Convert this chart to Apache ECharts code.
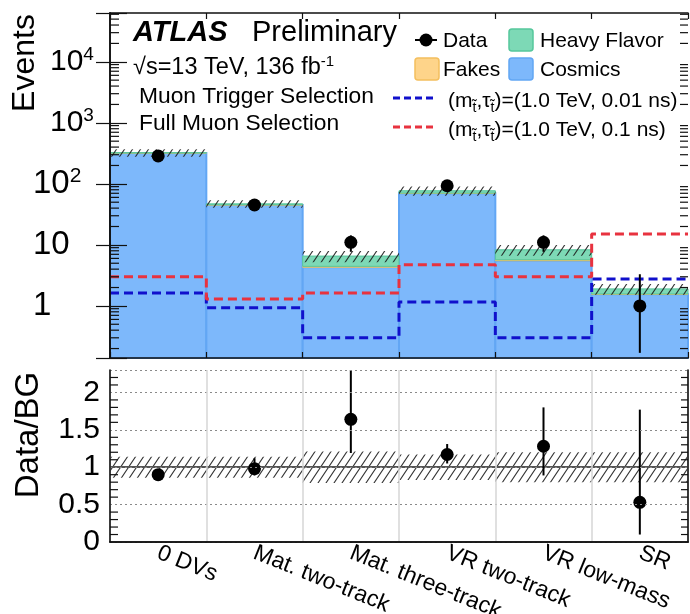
<!DOCTYPE html>
<html>
<head>
<meta charset="utf-8">
<script src="https://cdn.jsdelivr.net/npm/echarts@6/dist/echarts.min.js"></script>
<style>
  html, body { margin: 0; padding: 0; background: #fff; }
  #chart { width: 690px; height: 614px; }
</style>
</head>
<body>
<div id="chart"></div>
<script>
// Regions of the selection
const categories = ['0 DVs', 'Mat. two-track', 'Mat. three-track', 'VR two-track', 'VR low-mass', 'SR'];

// Background predictions per region (stacked)
const cosmics     = [320, 45, 4.3, 70, 5.5, 1.55];
const fakes       = [1.0, 0.4, 0.15, 0.5, 0.2, 0.02];
const heavyFlavor = [3.0, 1.6, 2.1, 6.5, 2.6, 0.33];
// Relative background uncertainty (hatched band)
const bgRelUnc    = [0.14, 0.14, 0.21, 0.17, 0.20, 0.20];

// Observed events with error bar ends
const dataCounts = [287, 45, 11, 93, 11, 1];
const dataLow    = [270, 38.3, 7.7, 83.4, 7.7, 0.17];
const dataHigh   = [304, 51.7, 14.3, 102.6, 14.3, 3.3];

// Signal benchmarks
const sigShort = [1.63, 0.93, 0.30, 1.16, 0.30, 2.77];   // 0.01 ns
const sigLong  = [2.99, 1.30, 1.63, 4.7, 2.99, 15.1];    // 0.1 ns

// Data / background ratio
const ratio     = [0.90, 0.98, 1.64, 1.17, 1.28, 0.53];
const ratioLow  = [0.85, 0.89, 1.19, 1.05, 0.89, 0.10];
const ratioHigh = [0.96, 1.12, 2.45, 1.31, 1.80, 1.77];

// Axis ranges and tick labels
const Y_MIN = 0.14, Y_MAX = 63000;
const R_MIN = 0, R_MAX = 2.3, R_STEP = 0.5;
const ratioTickLabels = ['0', '0.5', '1', '1.5', '2'];

const FONT = '"Liberation Sans", Arial, Helvetica, sans-serif';
const COL = {
  cosmics: '#7db8fb', cosmicsEdge: '#62a6f4',
  fakes: '#fed48a', fakesEdge: '#f4bf5e',
  hf: '#7dd9b6', hfEdge: '#56c79c',
  blue: '#1010cc', red: '#e8323f'
};

// Diagonal hatch tile
function hatchTile(w, h) {
  const c = document.createElement('canvas');
  c.width = w; c.height = h;
  const g = c.getContext('2d');
  g.strokeStyle = 'rgba(30,30,30,0.9)';
  g.lineWidth = 1.1;
  g.beginPath();
  g.moveTo(-1, h + h / w); g.lineTo(w + 1, -h / w);
  g.moveTo(-w, h); g.lineTo(w, -h);
  g.moveTo(0, 2 * h); g.lineTo(2 * w, 0);
  g.stroke();
  return c;
}
const hatch = { image: hatchTile(8, 12), repeat: 'repeat' };

// Histogram bin rectangle between two levels (x = bin index on a 0..6 value axis)
function binRect(fill, stroke, lw) {
  return function (params, api) {
    const i = api.value(0);
    const p0 = api.coord([i, api.value(2)]);
    const p1 = api.coord([i + 1, api.value(1)]);
    return {
      type: 'rect',
      shape: { x: p0[0], y: p0[1], width: p1[0] - p0[0], height: p1[1] - p0[1] },
      style: { fill: fill, stroke: stroke, lineWidth: lw }
    };
  };
}

function vline(x, y0, y1, lw, color) {
  return { type: 'line', shape: { x1: x, y1: y0, x2: x, y2: y1 }, style: { stroke: color || '#000', lineWidth: lw } };
}
function hline(x0, x1, y, lw, color) {
  return { type: 'line', shape: { x1: x0, y1: y, x2: x1, y2: y }, style: { stroke: color || '#000', lineWidth: lw } };
}

const totalBg = cosmics.map((c, i) => c + fakes[i] + heavyFlavor[i]);
const stepData = arr => arr.map((v, i) => [i, v]).concat([[arr.length, arr[arr.length - 1]]]);

const chart = echarts.init(document.getElementById('chart'), null, { renderer: 'canvas' });

const logLabel = function (v) {
  const e = Math.round(Math.log10(v));
  if (Math.abs(Math.log10(v) - e) > 1e-6) return '';
  if (e === 0) return '{b|1}';
  if (e === 1) return '{b|10}';
  if (e === 2) return '{b|10}{bs|2}';
  return '{u|10}{us|' + e + '}';
};

const frameLine = { show: true, lineStyle: { color: '#111', width: 1.6 } };

const option = {
  animation: false,
  backgroundColor: '#fff',
  textStyle: { fontFamily: FONT },
  grid: [
    { left: 110, top: 13, width: 578, height: 345, containLabel: false, outerBoundsMode: 'none' },
    { left: 110, top: 370, width: 578, height: 172, containLabel: false, outerBoundsMode: 'none' }
  ],
  xAxis: [
    { gridIndex: 0, type: 'value', min: 0, max: 6, interval: 1, position: 'bottom', z: 10,
      axisLine: frameLine, axisTick: { inside: true, length: 6, lineStyle: { color: '#111', width: 1.2 } },
      axisLabel: { show: false }, splitLine: { show: false } },
    { gridIndex: 0, type: 'value', min: 0, max: 6, interval: 1, position: 'top', z: 10,
      axisLine: frameLine, axisTick: { inside: true, length: 6, lineStyle: { color: '#111', width: 1.2 } },
      axisLabel: { show: false }, splitLine: { show: false } },
    { gridIndex: 1, type: 'category', data: categories, position: 'bottom', z: 10,
      axisLine: frameLine, axisTick: { show: false },
      axisLabel: { interval: 0, rotate: -22, fontSize: 23, margin: 10, color: '#000', fontFamily: FONT },
      splitLine: { show: true, lineStyle: { color: '#d6d6d6', width: 1.5 } } },
    { gridIndex: 1, type: 'category', data: categories, position: 'top', z: 10,
      axisLine: frameLine, axisTick: { show: false }, axisLabel: { show: false }, splitLine: { show: false } }
  ],
  yAxis: [
    { gridIndex: 0, type: 'log', min: Y_MIN, max: Y_MAX, position: 'left', z: 10,
      axisLine: frameLine,
      axisTick: { inside: true, length: 17, lineStyle: { color: '#111', width: 1.2 } },
      splitLine: { show: false },
      axisLabel: {
        margin: 77, align: 'left', color: '#000', formatter: logLabel,
        rich: {
          b: { fontSize: 33, fontFamily: FONT, color: '#000' },
          bs: { fontSize: 21, fontFamily: FONT, color: '#000', padding: [0, 0, 16, 0] },
          u: { fontSize: 30, fontFamily: FONT, color: '#000', padding: [0, 0, 0, 17] },
          us: { fontSize: 19, fontFamily: FONT, color: '#000', padding: [0, 0, 15, 0] }
        }
      } },
    { gridIndex: 0, type: 'log', min: Y_MIN, max: Y_MAX, position: 'right', z: 10,
      axisLine: frameLine,
      axisTick: { inside: true, length: 14, lineStyle: { color: '#111', width: 1.2 } },
      splitLine: { show: false }, axisLabel: { show: false } },
    { gridIndex: 1, type: 'value', min: R_MIN, max: R_MAX, interval: R_STEP, position: 'left', z: 10,
      axisLine: frameLine,
      axisTick: { inside: true, length: 15, lineStyle: { color: '#111', width: 1.2 } },
      splitLine: { show: true, lineStyle: { color: '#8a8a8a', width: 1.2, type: [2, 3] } },
      axisLabel: {
        margin: 10, fontSize: 30, color: '#000', fontFamily: FONT,
        formatter: v => {
          const k = Math.round(v / R_STEP);
          return Math.abs(v / R_STEP - k) < 1e-6 && ratioTickLabels[k] !== undefined ? ratioTickLabels[k] : '';
        }
      } },
    { gridIndex: 1, type: 'value', min: R_MIN, max: R_MAX, interval: R_STEP, position: 'right', z: 10,
      axisLine: frameLine,
      axisTick: { inside: true, length: 12, lineStyle: { color: '#111', width: 1.2 } },
      splitLine: { show: false }, axisLabel: { show: false } }
  ],
  series: [
    // stacked backgrounds
    { type: 'custom', name: 'Cosmics', xAxisIndex: 0, yAxisIndex: 0, z: 2,
      encode: { x: 0, y: [1, 2] },
      data: cosmics.map((v, i) => [i, Y_MIN, v]),
      renderItem: binRect(COL.cosmics, COL.cosmicsEdge, 2) },
    { type: 'custom', name: 'Fakes', xAxisIndex: 0, yAxisIndex: 0, z: 3,
      encode: { x: 0, y: [1, 2] },
      data: fakes.map((v, i) => [i, cosmics[i], cosmics[i] + v]),
      renderItem: binRect(COL.fakes, COL.fakesEdge, 1) },
    { type: 'custom', name: 'Heavy Flavor', xAxisIndex: 0, yAxisIndex: 0, z: 3,
      encode: { x: 0, y: [1, 2] },
      data: heavyFlavor.map((v, i) => [i, cosmics[i] + fakes[i], totalBg[i]]),
      renderItem: binRect(COL.hf, COL.hfEdge, 1) },
    // background uncertainty band
    { type: 'custom', name: 'Bkg. unc.', xAxisIndex: 0, yAxisIndex: 0, z: 4,
      encode: { x: 0, y: [1, 2] },
      data: totalBg.map((t, i) => [i, t * (1 - bgRelUnc[i]), t * (1 + bgRelUnc[i])]),
      renderItem: binRect(hatch, null, 0) },
    // signal benchmarks
    { type: 'line', name: '0.01 ns', xAxisIndex: 0, yAxisIndex: 0, z: 5, step: 'end',
      showSymbol: false, symbol: 'none', data: stepData(sigShort),
      lineStyle: { color: COL.blue, width: 3, type: [9, 5] } },
    { type: 'line', name: '0.1 ns', xAxisIndex: 0, yAxisIndex: 0, z: 5, step: 'end',
      showSymbol: false, symbol: 'none', data: stepData(sigLong),
      lineStyle: { color: COL.red, width: 3, type: [9, 5] } },
    // data error bars and points
    { type: 'custom', name: 'Data err', xAxisIndex: 0, yAxisIndex: 0, z: 6,
      encode: { x: 0, y: [1, 2] },
      data: dataCounts.map((v, i) => [i + 0.5, dataLow[i], dataHigh[i]]),
      renderItem: (params, api) => {
        const a = api.coord([api.value(0), api.value(1)]);
        const b = api.coord([api.value(0), api.value(2)]);
        return vline(a[0], a[1], b[1], 2);
      } },
    { type: 'scatter', name: 'Data', xAxisIndex: 0, yAxisIndex: 0, z: 7,
      symbolSize: 13, itemStyle: { color: '#000', opacity: 1 },
      data: dataCounts.map((v, i) => [i + 0.5, v]) },
    // log-axis minor ticks
    { type: 'custom', xAxisIndex: 0, yAxisIndex: 0, z: 11, silent: true,
      data: [[0, 1]],
      renderItem: (params, api) => {
        const cs = params.coordSys;
        const children = [];
        for (let k = -1; k <= 4; k++) {
          for (let m = 2; m <= 9; m++) {
            const v = m * Math.pow(10, k);
            if (v < Y_MIN || v > Y_MAX) continue;
            const y = api.coord([0, v])[1];
            children.push(hline(cs.x, cs.x + 9, y, 1.2, '#111'));
            children.push(hline(cs.x + cs.width - 8, cs.x + cs.width, y, 1.2, '#111'));
          }
        }
        return { type: 'group', children: children };
      } },

    // ratio panel: uncertainty band
    { type: 'custom', name: 'Ratio unc.', xAxisIndex: 2, yAxisIndex: 2, z: 4,
      encode: { x: 0, y: [1, 2] },
      data: bgRelUnc.map((u, i) => [i, 1 - u, 1 + u]),
      renderItem: (params, api) => {
        const w = api.size([1, 0])[0];
        const top = api.coord([api.value(0), api.value(2)]);
        const bot = api.coord([api.value(0), api.value(1)]);
        return { type: 'rect',
          shape: { x: top[0] - w / 2, y: top[1], width: w, height: bot[1] - top[1] },
          style: { fill: hatch } };
      },
      markLine: { silent: true, symbol: 'none', label: { show: false },
        lineStyle: { color: '#555', width: 2, type: 'solid' }, data: [{ yAxis: 1 }] } },
    { type: 'custom', name: 'Ratio err', xAxisIndex: 2, yAxisIndex: 2, z: 6,
      encode: { x: 0, y: [1, 2] },
      data: ratio.map((r, i) => [i, ratioLow[i], ratioHigh[i]]),
      renderItem: (params, api) => {
        const cs = params.coordSys;
        const a = api.coord([api.value(0), api.value(1)]);
        const b = api.coord([api.value(0), api.value(2)]);
        const y0 = Math.min(Math.max(a[1], cs.y), cs.y + cs.height);
        const y1 = Math.min(Math.max(b[1], cs.y), cs.y + cs.height);
        return vline(a[0], y0, y1, 2);
      } },
    { type: 'scatter', name: 'Ratio', xAxisIndex: 2, yAxisIndex: 2, z: 7,
      symbolSize: 13, itemStyle: { color: '#000', opacity: 1 },
      data: ratio.map((r, i) => [i, r]) },
    // ratio-axis minor ticks
    { type: 'custom', xAxisIndex: 2, yAxisIndex: 2, z: 11, silent: true,
      data: [[0, 1]],
      renderItem: (params, api) => {
        const cs = params.coordSys;
        const children = [];
        for (let k = 1; k * 0.1 < R_MAX - 1e-9; k++) {
          if (k % 5 === 0) continue;
          const y = api.coord([0, k * 0.1])[1];
          children.push(hline(cs.x, cs.x + 8, y, 1.2, '#111'));
          children.push(hline(cs.x + cs.width - 7, cs.x + cs.width, y, 1.2, '#111'));
        }
        return { type: 'group', children: children };
      } }
  ],
  graphic: [
    // axis titles
    { type: 'text', x: 25, y: 63, rotation: Math.PI / 2,
      style: { text: 'Events', font: '32px ' + FONT, fill: '#000', align: 'center', verticalAlign: 'middle' } },
    { type: 'text', x: 29, y: 435, rotation: Math.PI / 2,
      style: { text: 'Data/BG', font: '33px ' + FONT, fill: '#000', align: 'center', verticalAlign: 'middle' } },
    // labels
    { type: 'text', x: 133, y: 33,
      style: { text: 'ATLAS', font: 'italic bold 29px ' + FONT, fill: '#000', verticalAlign: 'middle' } },
    { type: 'text', x: 252, y: 33,
      style: { text: 'Preliminary', font: '29px ' + FONT, fill: '#000', verticalAlign: 'middle' } },
    { type: 'text', x: 133, y: 68,
      style: { text: '√s=13 TeV, 136 fb{s|-1}', fill: '#000', verticalAlign: 'middle',
        rich: { s: { fontSize: 15, fontFamily: FONT, padding: [0, 0, 12, 0] } },
        font: '23.5px ' + FONT } },
    { type: 'text', x: 139, y: 97,
      style: { text: 'Muon Trigger Selection', font: '22.8px ' + FONT, fill: '#000', verticalAlign: 'middle' } },
    { type: 'text', x: 139, y: 124,
      style: { text: 'Full Muon Selection', font: '22.8px ' + FONT, fill: '#000', verticalAlign: 'middle' } },
    // legend
    { type: 'line', shape: { x1: 415, y1: 40, x2: 437, y2: 40 }, style: { stroke: '#000', lineWidth: 2 } },
    { type: 'circle', shape: { cx: 426, cy: 40, r: 6.5 }, style: { fill: '#000' } },
    { type: 'text', x: 443, y: 41,
      style: { text: 'Data', font: '21px ' + FONT, fill: '#000', verticalAlign: 'middle' } },
    { type: 'rect', shape: { x: 509, y: 29, width: 24, height: 22, r: 3 },
      style: { fill: COL.hf, stroke: COL.hfEdge, lineWidth: 1.5 } },
    { type: 'text', x: 540, y: 41,
      style: { text: 'Heavy Flavor', font: '21px ' + FONT, fill: '#000', verticalAlign: 'middle' } },
    { type: 'rect', shape: { x: 415, y: 58, width: 24, height: 22, r: 3 },
      style: { fill: COL.fakes, stroke: COL.fakesEdge, lineWidth: 1.5 } },
    { type: 'text', x: 443, y: 70,
      style: { text: 'Fakes', font: '21px ' + FONT, fill: '#000', verticalAlign: 'middle' } },
    { type: 'rect', shape: { x: 509, y: 58, width: 24, height: 22, r: 3 },
      style: { fill: COL.cosmics, stroke: COL.cosmicsEdge, lineWidth: 1.5 } },
    { type: 'text', x: 540, y: 70,
      style: { text: 'Cosmics', font: '21px ' + FONT, fill: '#000', verticalAlign: 'middle' } },
    { type: 'line', shape: { x1: 393, y1: 98, x2: 436, y2: 98 },
      style: { stroke: COL.blue, lineWidth: 3, lineDash: [7, 4] } },
    { type: 'text', x: 448, y: 101,
      style: { text: '(m{t|t̃},τ{t|t̃})=(1.0 TeV, 0.01 ns)', fill: '#000', verticalAlign: 'middle',
        font: '21px ' + FONT,
        rich: { t: { fontSize: 14, fontFamily: FONT, padding: [14, 0, 0, 0] } } } },
    { type: 'line', shape: { x1: 393, y1: 127, x2: 436, y2: 127 },
      style: { stroke: COL.red, lineWidth: 3, lineDash: [7, 4] } },
    { type: 'text', x: 448, y: 130,
      style: { text: '(m{t|t̃},τ{t|t̃})=(1.0 TeV, 0.1 ns)', fill: '#000', verticalAlign: 'middle',
        font: '21px ' + FONT,
        rich: { t: { fontSize: 14, fontFamily: FONT, padding: [14, 0, 0, 0] } } } }
  ]
};

chart.setOption(option);
</script>
</body>
</html>
